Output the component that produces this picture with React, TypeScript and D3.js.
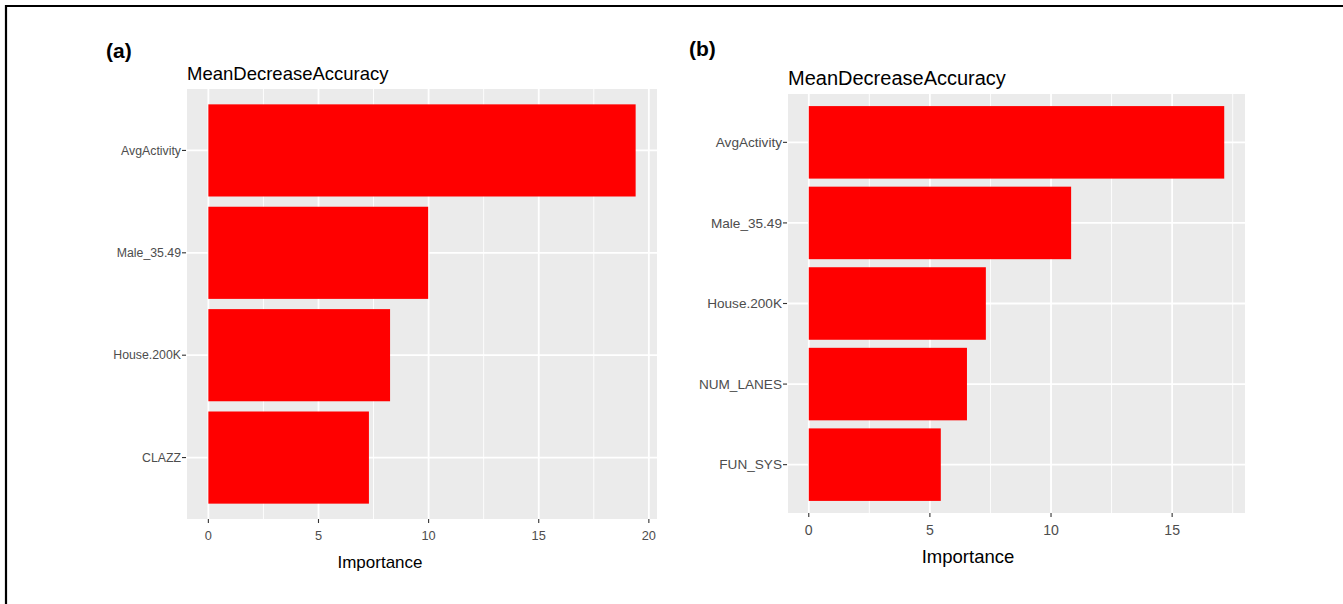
import React from "react";
import * as d3 from "d3";

const catsA = ["AvgActivity", "Male_35.49", "House.200K", "CLAZZ"];
const valsA = [19.4, 9.98, 8.25, 7.29];
const ticksA = [0, 5, 10, 15, 20];

const catsB = ["AvgActivity", "Male_35.49", "House.200K", "NUM_LANES", "FUN_SYS"];
const valsB = [17.15, 10.83, 7.31, 6.53, 5.45];
const ticksB = [0, 5, 10, 15];

const FONT = "'Liberation Sans', Arial, Helvetica, sans-serif";

type PanelProps = {
  label: string;
  cats: string[];
  vals: number[];
  ticks: number[];
  left: number;
  right: number;
  top: number;
  bottom: number;
  labelX: number;
  labelY: number;
  labelSize: number;
  titleY: number;
  titleSize: number;
  axisSize: number;
  tickLabelY: number;
  xTitleX: number;
  xTitleY: number;
  xTitleSize: number;
};

function Panel(p: PanelProps) {
  const max = d3.max(p.vals) as number;
  const x = d3
    .scaleLinear()
    .domain([-0.05 * max, 1.05 * max])
    .range([p.left, p.right]);
  const y = d3
    .scaleBand<string>()
    .domain(p.cats)
    .range([p.top, p.bottom])
    .paddingInner(0.1)
    .paddingOuter(0.15);
  const half = (p.ticks[1] - p.ticks[0]) / 2;
  const dom = x.domain();
  const minor = [p.ticks[0] - half, ...p.ticks.map((t) => t + half)].filter(
    (v) => v >= dom[0] && v <= dom[1]
  );
  const x0 = x(0);
  return (
    <g>
      <text x={p.labelX} y={p.labelY} fontFamily={FONT} fontWeight="bold" fontSize={p.labelSize} fill="#000">
        {p.label}
      </text>
      <text x={p.left} y={p.titleY} fontFamily={FONT} fontSize={p.titleSize} fill="#000">
        MeanDecreaseAccuracy
      </text>
      <rect x={p.left} y={p.top} width={p.right - p.left} height={p.bottom - p.top} fill="#EBEBEB" />
      {minor.map((m) => (
        <line key={"mi" + m} x1={x(m)} x2={x(m)} y1={p.top} y2={p.bottom} stroke="#fff" strokeWidth={0.9} />
      ))}
      {p.ticks.map((t) => (
        <line key={"ma" + t} x1={x(t)} x2={x(t)} y1={p.top} y2={p.bottom} stroke="#fff" strokeWidth={1.8} />
      ))}
      {p.cats.map((c) => {
        const cy = (y(c) as number) + y.bandwidth() / 2;
        return <line key={"hy" + c} x1={p.left} x2={p.right} y1={cy} y2={cy} stroke="#fff" strokeWidth={1.8} />;
      })}
      {p.cats.map((c, i) => (
        <rect
          key={"b" + c}
          x={x0}
          y={y(c) as number}
          width={x(p.vals[i]) - x0}
          height={y.bandwidth()}
          fill="#FF0000"
        />
      ))}
      {p.cats.map((c) => {
        const cy = (y(c) as number) + y.bandwidth() / 2;
        return (
          <g key={"yl" + c}>
            <line x1={p.left - 5} x2={p.left - 1} y1={cy} y2={cy} stroke="#333" strokeWidth={1.1} />
            <text
              x={p.left - 6}
              y={cy}
              dy="0.35em"
              textAnchor="end"
              fontFamily={FONT}
              fontSize={p.axisSize}
              fill="#4D4D4D"
            >
              {c}
            </text>
          </g>
        );
      })}
      {p.ticks.map((t) => (
        <g key={"xl" + t}>
          <line x1={x(t)} x2={x(t)} y1={p.bottom} y2={p.bottom + 4} stroke="#333" strokeWidth={1.1} />
          <text x={x(t)} y={p.tickLabelY} textAnchor="middle" fontFamily={FONT} fontSize={p.axisSize + 0.5} fill="#4D4D4D">
            {t}
          </text>
        </g>
      ))}
      <text x={p.xTitleX} y={p.xTitleY} textAnchor="middle" fontFamily={FONT} fontSize={p.xTitleSize} fill="#000">
        Importance
      </text>
    </g>
  );
}

export default function App() {
  return (
    <svg width={1343} height={604} style={{ position: "absolute", left: 0, top: 0, background: "#fff" }}>
      <rect x={0} y={0} width={1343} height={604} fill="#fff" />
      <line x1={5} x2={1343} y1={6} y2={6} stroke="#000" strokeWidth={2.2} />
      <line x1={6} x2={6} y1={5} y2={604} stroke="#000" strokeWidth={2.2} />
      <Panel
        label="(a)"
        cats={catsA}
        vals={valsA}
        ticks={ticksA}
        left={187}
        right={657}
        top={89}
        bottom={519}
        labelX={106}
        labelY={58}
        labelSize={21}
        titleY={80}
        titleSize={18.5}
        axisSize={12.3}
        tickLabelY={540}
        xTitleX={380}
        xTitleY={568}
        xTitleSize={17}
      />
      <Panel
        label="(b)"
        cats={catsB}
        vals={valsB}
        ticks={ticksB}
        left={788}
        right={1245}
        top={94}
        bottom={513}
        labelX={689}
        labelY={56}
        labelSize={21}
        titleY={85}
        titleSize={20}
        axisSize={13.6}
        tickLabelY={535}
        xTitleX={968}
        xTitleY={563}
        xTitleSize={18.5}
      />
    </svg>
  );
}
